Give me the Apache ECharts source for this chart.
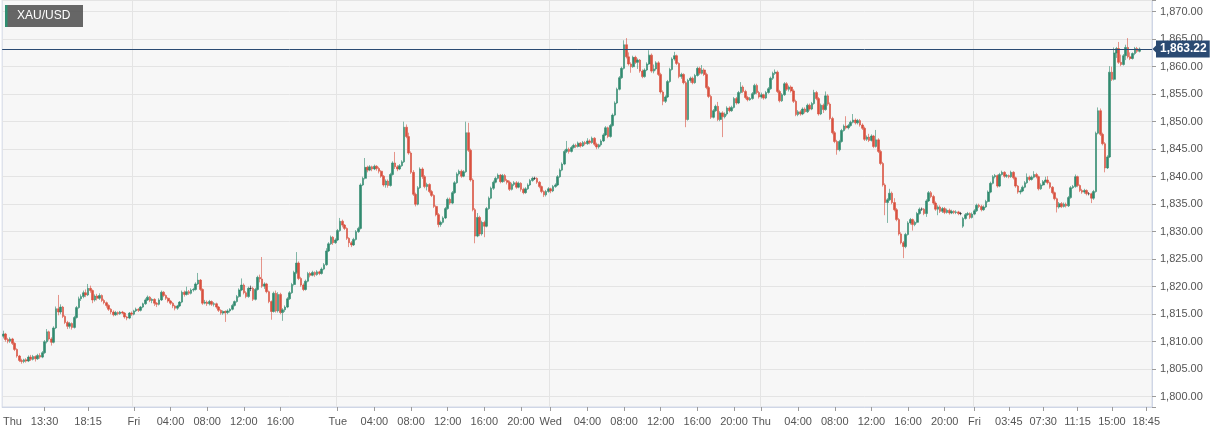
<!DOCTYPE html>
<html>
<head>
<meta charset="utf-8">
<script src="https://cdn.jsdelivr.net/npm/echarts@6/dist/echarts.min.js"></script>
<style>
html,body{margin:0;padding:0;background:#ffffff;}
#chart{width:1222px;height:435px;}
</style>
</head>
<body>
<div id="chart"></div>
<script>
// candles: [open, close, low, high], 15-minute bars
const thu1 = [
[1811.0,1811.4,1810.6,1812.0],[1811.4,1810.4,1810.0,1811.6],[1810.4,1810.1,1809.7,1810.7],[1810.1,1810.5,1809.8,1810.8],
[1810.5,1809.7,1809.4,1810.7],[1809.7,1808.6,1808.3,1809.9],[1808.6,1807.4,1807.1,1808.8],[1807.4,1806.6,1806.3,1807.6],
[1806.6,1806.4,1806.0,1806.9],[1806.4,1806.7,1806.1,1806.9],[1806.7,1806.5,1806.2,1807.0],[1806.5,1807.2,1806.3,1807.5],
[1807.2,1806.8,1806.5,1807.6],[1806.8,1807.3,1806.6,1807.6],[1807.3,1806.9,1806.4,1807.5],[1806.9,1807.5,1806.7,1807.8],
[1807.5,1807.2,1806.9,1807.9],[1807.2,1808.0,1807.0,1808.3],[1808.0,1810.0,1807.8,1810.3],[1810.0,1811.8,1809.7,1812.3],
[1811.8,1810.5,1810.2,1812.0],[1810.5,1809.9,1809.3,1810.8],[1809.9,1812.5,1809.7,1812.8],[1812.5,1816.0,1812.3,1816.4],
[1816.0,1815.4,1814.8,1818.5],[1815.4,1816.3,1815.0,1816.8],[1816.3,1814.6,1814.3,1816.5],[1814.6,1813.5,1813.2,1814.8],
[1813.5,1812.8,1812.3,1813.8],[1812.8,1813.3,1812.4,1813.6],[1813.3,1812.6,1812.2,1813.5],[1812.6,1814.4,1812.4,1814.7],
[1814.4,1816.2,1814.2,1816.5],[1816.2,1817.8,1816.0,1818.2],[1817.8,1818.2,1817.4,1818.6],[1818.2,1818.9,1817.9,1819.3],
[1818.9,1818.5,1818.1,1819.5],[1818.5,1819.7,1818.3,1820.5],[1819.7,1819.3,1818.9,1820.2],[1819.3,1817.6,1817.0,1819.5],
[1817.6,1818.3,1817.3,1818.6],[1818.3,1817.9,1817.5,1818.7],[1817.9,1818.4,1817.6,1818.8],[1818.4,1817.5,1817.2,1818.6],
[1817.5,1817.1,1816.8,1817.8],[1817.1,1816.6,1816.2,1817.3],[1816.6,1815.9,1815.6,1816.8],[1815.9,1815.4,1815.0,1816.1],
[1815.4,1814.9,1814.6,1815.7],[1814.9,1815.3,1814.7,1815.6],[1815.3,1815.1,1814.8,1815.5],[1815.1,1815.4,1814.9,1815.6],
[1815.4,1815.2,1815.0,1815.6],[1815.2,1814.5,1814.2,1815.4],[1814.5,1814.3,1813.9,1814.7],[1814.3,1815.2,1814.1,1815.4],
[1815.2,1815.0,1814.7,1815.5]
];
const fri1 = [
[1815.0,1815.6,1814.8,1815.8],[1815.6,1815.9,1815.4,1816.2],[1815.9,1815.7,1815.4,1816.1],[1815.7,1816.3,1815.5,1816.5],
[1816.3,1816.9,1816.1,1817.1],[1816.9,1817.6,1816.7,1817.9],[1817.6,1818.1,1817.4,1818.4],[1818.1,1817.5,1817.2,1818.3],
[1817.5,1817.7,1817.0,1817.9],[1817.7,1817.0,1816.5,1817.9],[1817.0,1816.8,1816.3,1817.2],[1816.8,1817.6,1816.6,1817.9],
[1817.6,1819.0,1817.4,1819.3],[1819.0,1818.4,1818.1,1819.2],[1818.4,1817.9,1817.6,1818.6],[1817.9,1817.4,1817.1,1818.1],
[1817.4,1817.0,1816.7,1817.6],[1817.0,1816.5,1816.1,1817.2],[1816.5,1816.1,1815.7,1816.7],[1816.1,1816.5,1815.8,1816.7],
[1816.5,1817.2,1816.3,1817.4],[1817.2,1819.0,1817.0,1819.3],[1819.0,1818.6,1818.2,1819.3],[1818.6,1819.1,1818.4,1820.0],
[1819.1,1818.8,1818.5,1819.4],[1818.8,1819.4,1818.6,1819.7],[1819.4,1819.5,1819.1,1819.8],[1819.5,1820.5,1819.3,1820.8],
[1820.5,1821.2,1820.3,1822.5],[1821.2,1819.5,1819.2,1821.4],[1819.5,1817.0,1816.7,1819.7],[1817.0,1817.2,1816.8,1817.6],
[1817.2,1816.9,1816.5,1817.5],[1816.9,1817.3,1816.6,1817.6],[1817.3,1816.8,1816.5,1817.5],[1816.8,1816.9,1816.4,1817.2],
[1816.9,1816.3,1816.0,1817.1],[1816.3,1815.7,1815.4,1816.5],[1815.7,1815.2,1814.9,1815.9],[1815.2,1815.5,1814.9,1815.7],
[1815.5,1815.3,1813.6,1815.7],[1815.3,1815.6,1815.0,1815.9],[1815.6,1815.9,1815.3,1816.1],[1815.9,1816.6,1815.7,1816.9],
[1816.6,1817.3,1816.4,1817.5],[1817.3,1818.2,1817.1,1818.5],[1818.2,1819.4,1818.0,1819.7],[1819.4,1820.3,1819.2,1821.5],
[1820.3,1818.9,1818.6,1820.6],[1818.9,1818.2,1817.9,1819.2],[1818.2,1819.7,1818.0,1820.0],[1819.7,1819.7,1819.2,1820.2],
[1819.7,1817.7,1817.4,1820.0],[1817.7,1819.5,1817.5,1819.8],[1819.5,1821.7,1819.3,1822.0],[1821.7,1821.4,1820.8,1822.2],
[1821.4,1820.1,1819.8,1825.4],[1820.1,1820.5,1819.6,1820.8],[1820.5,1819.1,1818.8,1820.7],[1819.1,1817.3,1817.0,1819.3],
[1817.3,1815.5,1814.0,1817.5],[1815.5,1818.8,1815.3,1819.1],[1818.8,1815.6,1815.3,1819.3],[1815.6,1818.6,1815.3,1819.0],
[1818.6,1815.3,1815.0,1818.9],[1815.3,1815.8,1813.8,1816.1],[1815.8,1816.3,1815.4,1816.6],[1816.3,1817.8,1816.1,1818.1],
[1817.8,1818.9,1817.6,1819.2],[1818.9,1820.4,1818.7,1820.7],[1820.4,1822.6,1820.2,1822.9],[1822.6,1824.3,1822.3,1826.3],
[1824.3,1821.5,1821.2,1824.6],[1821.5,1820.3,1820.0,1821.8],[1820.3,1819.5,1819.2,1820.6],[1819.5,1821.0,1819.3,1821.3],
[1821.0,1822.4,1820.8,1822.7],[1822.4,1822.1,1821.7,1822.7],[1822.1,1822.6,1821.9,1822.9],[1822.6,1822.2,1821.8,1822.8],
[1822.2,1822.7,1822.0,1823.0],[1822.7,1822.4,1822.1,1822.9],[1822.4,1823.2,1822.2,1823.5],[1823.2,1824.0,1823.0,1824.3],
[1824.0,1826.5,1823.8,1827.0],[1826.5,1827.8,1826.3,1828.1],[1827.8,1829.0,1827.6,1829.3],[1829.0,1828.0,1827.6,1829.2],
[1828.0,1828.5,1827.8,1828.8]
];
const tue = [
[1828.5,1830.2,1828.3,1830.5],[1830.2,1831.9,1830.0,1832.5],[1831.9,1831.2,1830.8,1832.2],[1831.2,1830.6,1830.3,1831.4],
[1830.6,1828.8,1828.5,1830.8],[1828.8,1828.0,1827.2,1829.0],[1828.0,1827.6,1827.2,1828.3],[1827.6,1828.6,1827.4,1828.9],
[1828.6,1830.0,1828.4,1830.3],[1830.0,1830.6,1829.8,1830.9],[1830.6,1838.5,1830.4,1838.8],[1838.5,1839.7,1838.3,1840.0],
[1839.7,1841.7,1839.5,1843.4],[1841.7,1841.2,1840.8,1842.0],[1841.2,1841.8,1841.0,1842.1],[1841.8,1841.4,1841.0,1842.0],
[1841.4,1841.9,1841.2,1842.2],[1841.9,1841.5,1841.1,1842.1],[1841.5,1841.0,1840.6,1841.8],[1841.0,1840.1,1839.8,1841.2],
[1840.1,1838.5,1838.2,1840.3],[1838.5,1839.2,1838.0,1839.5],[1839.2,1838.4,1838.0,1839.5],[1838.4,1840.4,1838.2,1840.7],
[1840.4,1842.5,1840.2,1842.8],[1842.5,1841.8,1841.4,1844.5],[1841.8,1841.4,1841.0,1842.1],[1841.4,1842.0,1841.2,1842.3],
[1842.0,1842.7,1841.8,1843.0],[1842.7,1849.0,1842.5,1850.0],[1849.0,1847.3,1847.0,1849.5],[1847.3,1844.3,1844.0,1848.0],
[1844.3,1840.8,1840.5,1844.6],[1840.8,1836.8,1836.5,1841.2],[1836.8,1835.0,1834.6,1837.1],[1835.0,1838.0,1834.8,1838.3],
[1838.0,1841.4,1837.8,1841.7],[1841.4,1840.0,1839.6,1841.7],[1840.0,1838.2,1837.9,1840.3],[1838.2,1838.6,1837.5,1838.9],
[1838.6,1837.3,1837.0,1838.8],[1837.3,1836.6,1836.3,1837.6],[1836.6,1834.6,1834.3,1836.8],[1834.6,1833.1,1832.8,1834.8],
[1833.1,1831.3,1830.8,1833.4],[1831.3,1831.7,1830.9,1832.0],[1831.7,1832.5,1831.5,1832.8],[1832.5,1834.2,1832.3,1834.5],
[1834.2,1835.9,1834.0,1836.2],[1835.9,1835.2,1834.9,1836.2],[1835.2,1837.1,1835.0,1837.4],[1837.1,1838.9,1836.9,1839.2],
[1838.9,1840.5,1838.7,1840.8],[1840.5,1841.0,1840.2,1841.3],[1841.0,1840.1,1839.8,1841.3],[1840.1,1840.9,1839.9,1841.2],
[1840.9,1848.0,1840.7,1850.0],[1848.0,1844.8,1844.5,1849.8],[1844.8,1839.4,1839.1,1845.1],[1839.4,1834.0,1833.7,1839.7],
[1834.0,1829.2,1827.9,1834.3],[1829.2,1832.6,1829.0,1833.4],[1832.6,1829.6,1829.2,1832.9],[1829.6,1831.7,1829.3,1832.0],
[1831.7,1831.0,1829.0,1832.0],[1831.0,1834.2,1830.8,1834.5],[1834.2,1836.1,1834.0,1836.4],[1836.1,1837.9,1835.9,1838.2],
[1837.9,1839.0,1837.6,1839.3],[1839.0,1839.7,1838.8,1840.0],[1839.7,1840.3,1839.5,1840.6],[1840.3,1839.1,1838.8,1840.5],
[1839.1,1840.2,1838.9,1840.5],[1840.2,1839.3,1839.0,1840.5],[1839.3,1839.0,1838.6,1839.6],[1839.0,1837.7,1837.4,1839.3],
[1837.7,1838.6,1837.5,1838.9],[1838.6,1838.9,1838.3,1839.2],[1838.9,1838.1,1837.8,1839.2],[1838.1,1838.8,1837.9,1839.1],
[1838.8,1837.7,1837.3,1839.0],[1837.7,1837.1,1836.8,1838.0],[1837.1,1837.8,1836.9,1838.1],[1837.8,1838.5,1837.6,1838.8],
[1838.5,1839.3,1838.3,1839.6],[1839.3,1839.7,1839.1,1840.0],[1839.7,1839.7,1839.4,1840.0],[1839.7,1839.0,1838.7,1839.9],
[1839.0,1838.2,1837.9,1839.2],[1838.2,1837.3,1837.0,1838.4],[1837.3,1836.7,1836.3,1837.5],[1836.7,1837.3,1836.4,1837.6],
[1837.3,1837.8,1837.1,1838.1]
];
const wed = [
[1837.8,1837.4,1837.0,1838.0],[1837.4,1838.2,1837.2,1838.5],[1838.2,1838.5,1838.0,1838.8],[1838.5,1840.0,1838.3,1840.3],
[1840.0,1841.2,1839.8,1841.5],[1841.2,1842.3,1841.0,1842.6],[1842.3,1844.6,1842.1,1844.9],[1844.6,1845.0,1844.3,1846.5],
[1845.0,1844.6,1844.2,1845.3],[1844.6,1845.3,1844.4,1845.6],[1845.3,1845.7,1845.1,1846.0],[1845.7,1845.5,1845.2,1846.0],
[1845.5,1846.1,1845.3,1846.4],[1846.1,1845.6,1845.3,1846.3],[1845.6,1846.2,1845.4,1846.5],[1846.2,1846.0,1845.7,1846.5],
[1846.0,1846.5,1845.8,1847.0],[1846.5,1846.2,1845.9,1846.8],[1846.2,1847.0,1846.0,1847.3],[1847.0,1845.9,1845.6,1847.2],
[1845.9,1845.4,1845.0,1846.2],[1845.4,1845.8,1845.1,1846.0],[1845.8,1846.5,1845.5,1846.8],[1846.5,1847.6,1846.3,1847.9],
[1847.6,1848.9,1847.4,1849.2],[1848.9,1847.3,1847.0,1849.1],[1847.3,1849.3,1847.1,1849.6],[1849.3,1851.2,1849.1,1851.5],
[1851.2,1853.4,1851.0,1853.7],[1853.4,1855.9,1853.2,1856.2],[1855.9,1858.0,1855.7,1858.3],[1858.0,1859.7,1857.8,1860.0],
[1859.7,1864.0,1859.5,1864.8],[1864.0,1861.8,1861.5,1865.2],[1861.8,1860.5,1860.2,1862.6],[1860.5,1860.0,1858.9,1860.8],
[1860.0,1861.7,1859.8,1862.0],[1861.7,1860.8,1860.5,1862.0],[1860.8,1861.2,1859.6,1861.5],[1861.2,1859.2,1858.9,1861.4],
[1859.2,1858.2,1857.9,1859.5],[1858.2,1859.4,1858.0,1859.7],[1859.4,1860.5,1859.2,1860.8],[1860.5,1862.1,1860.3,1863.0],
[1862.1,1859.2,1858.9,1862.4],[1859.2,1859.6,1858.8,1860.4],[1859.6,1860.7,1859.3,1861.0],[1860.7,1858.6,1858.3,1861.0],
[1858.6,1855.4,1855.1,1858.9],[1855.4,1853.7,1853.0,1855.7],[1853.7,1854.5,1853.4,1854.8],[1854.5,1857.3,1854.3,1857.6],
[1857.3,1859.5,1857.1,1859.8],[1859.5,1861.4,1859.3,1861.7],[1861.4,1862.0,1861.1,1862.7],[1862.0,1860.6,1860.3,1862.2],
[1860.6,1858.2,1857.9,1860.8],[1858.2,1858.6,1857.8,1858.9],[1858.6,1857.1,1856.8,1858.8],[1857.1,1850.4,1849.0,1857.4],
[1850.4,1857.5,1850.2,1857.8],[1857.5,1857.9,1857.1,1858.2],[1857.9,1857.1,1856.8,1858.2],[1857.1,1858.4,1856.9,1858.7],
[1858.4,1859.7,1858.2,1860.0],[1859.7,1858.8,1858.5,1860.0],[1858.8,1859.4,1858.6,1860.3],[1859.4,1858.6,1858.3,1859.7],
[1858.6,1856.2,1855.9,1858.9],[1856.2,1854.6,1854.3,1856.5],[1854.6,1850.8,1850.5,1854.9],[1850.8,1852.0,1850.6,1852.3],
[1852.0,1852.8,1851.8,1853.1],[1852.8,1850.4,1850.1,1853.6],[1850.4,1851.6,1850.1,1851.9],[1851.6,1850.9,1847.2,1851.9],
[1850.9,1851.4,1850.6,1851.7],[1851.4,1852.5,1851.1,1852.8],[1852.5,1852.0,1851.7,1852.8],[1852.0,1852.6,1851.8,1852.9],
[1852.6,1854.2,1852.4,1854.5],[1854.2,1853.4,1853.1,1854.5],[1853.4,1855.3,1853.2,1855.6],[1855.3,1856.3,1855.1,1857.2],
[1856.3,1855.5,1855.2,1856.6],[1855.5,1854.4,1854.1,1855.8],[1854.4,1854.0,1853.7,1854.7],[1854.0,1854.2,1853.8,1854.5],
[1854.2,1855.1,1854.0,1855.4],[1855.1,1856.6,1854.9,1856.9],[1856.6,1855.3,1855.0,1856.9],[1855.3,1854.5,1854.2,1855.6]
];
const thu2 = [
[1854.5,1854.9,1854.2,1855.3],[1854.9,1854.3,1854.0,1855.1],[1854.3,1855.3,1854.1,1855.6],[1855.3,1856.0,1855.1,1856.3],
[1856.0,1857.9,1855.8,1858.2],[1857.9,1858.8,1857.6,1859.1],[1858.8,1859.0,1858.5,1859.5],[1859.0,1855.5,1855.2,1859.3],
[1855.5,1853.8,1853.5,1855.8],[1853.8,1854.9,1853.6,1855.2],[1854.9,1856.9,1854.7,1857.2],[1856.9,1855.9,1855.6,1857.2],
[1855.9,1856.3,1855.5,1856.6],[1856.3,1855.6,1855.3,1856.6],[1855.6,1853.7,1853.4,1855.9],[1853.7,1851.3,1851.0,1854.0],
[1851.3,1851.8,1851.0,1852.1],[1851.8,1851.4,1851.1,1852.1],[1851.4,1852.3,1851.2,1852.6],[1852.3,1851.8,1851.5,1852.6],
[1851.8,1853.0,1851.6,1853.3],[1853.0,1852.3,1852.0,1853.3],[1852.3,1853.3,1852.1,1853.6],[1853.3,1855.3,1853.1,1855.8],
[1855.3,1854.2,1853.9,1855.6],[1854.2,1851.4,1851.1,1854.5],[1851.4,1853.0,1851.2,1853.3],[1853.0,1852.2,1851.6,1853.3],
[1852.2,1854.7,1852.0,1855.5],[1854.7,1853.2,1852.9,1855.0],[1853.2,1850.6,1850.3,1853.5],[1850.6,1848.0,1847.7,1850.9],
[1848.0,1846.4,1846.1,1848.3],[1846.4,1844.9,1844.0,1846.7],[1844.9,1846.4,1844.6,1846.7],[1846.4,1848.4,1846.2,1848.7],
[1848.4,1849.2,1848.2,1849.5],[1849.2,1848.9,1848.6,1851.0],[1848.9,1849.3,1848.6,1849.6],[1849.3,1849.9,1849.1,1850.2],
[1849.9,1850.3,1849.7,1851.4],[1850.3,1849.8,1849.5,1850.6],[1849.8,1850.2,1849.5,1850.5],[1850.2,1849.4,1849.1,1850.5],
[1849.4,1848.8,1848.5,1849.7],[1848.8,1846.8,1846.5,1849.1],[1846.8,1847.2,1846.5,1847.5],[1847.2,1846.6,1846.3,1847.8],
[1846.6,1847.4,1846.4,1847.7],[1847.4,1845.5,1845.2,1847.6],[1845.5,1846.7,1845.3,1848.5],[1846.7,1844.6,1844.3,1847.0],
[1844.6,1842.4,1842.1,1844.9],[1842.4,1838.5,1838.2,1842.7],[1838.5,1835.3,1833.0,1838.8],[1835.3,1835.8,1831.6,1836.1],
[1835.8,1837.0,1835.6,1837.8],[1837.0,1835.3,1835.0,1837.3],[1835.3,1834.0,1833.7,1836.1],[1834.0,1832.2,1831.9,1834.3],
[1832.2,1829.6,1829.3,1832.5],[1829.6,1828.0,1827.7,1829.9],[1828.0,1827.3,1825.2,1828.3],[1827.3,1829.5,1827.0,1829.8],
[1829.5,1831.6,1829.3,1831.9],[1831.6,1832.2,1831.3,1832.5],[1832.2,1831.3,1830.2,1832.4],[1831.3,1831.7,1831.0,1832.0],
[1831.7,1833.3,1831.5,1833.6],[1833.3,1834.1,1833.1,1834.4],[1834.1,1834.1,1833.8,1834.4],[1834.1,1833.3,1833.0,1834.3],
[1833.3,1835.6,1832.7,1835.9],[1835.6,1837.1,1835.4,1837.4],[1837.1,1836.4,1836.1,1837.4],[1836.4,1835.2,1834.9,1836.7],
[1835.2,1834.1,1833.8,1835.5],[1834.1,1834.5,1833.0,1834.8],[1834.5,1833.7,1833.4,1834.8],[1833.7,1834.2,1833.4,1834.5],
[1834.2,1833.5,1833.2,1834.5],[1833.5,1833.9,1833.3,1834.2],[1833.9,1833.4,1833.1,1834.2],[1833.4,1833.7,1833.2,1834.0],
[1833.7,1833.5,1833.2,1833.9],[1833.5,1833.6,1833.2,1833.9],[1833.6,1833.3,1833.0,1833.8],[1833.3,1833.3,1833.0,1833.6],
[1831.0,1832.4,1830.7,1832.7],[1832.4,1833.1,1832.2,1833.4],[1833.1,1833.3,1832.9,1833.6],[1833.3,1832.6,1832.3,1833.5],
[1832.6,1833.2,1832.4,1833.5]
];
const fri2 = [
[1833.2,1833.8,1833.0,1834.1],[1833.8,1834.8,1833.6,1835.1],[1834.8,1834.6,1834.3,1835.1],[1834.6,1834.0,1833.7,1834.9],
[1834.0,1834.5,1833.8,1834.8],[1834.5,1835.5,1834.3,1835.8],[1835.5,1837.2,1835.3,1837.5],[1837.2,1838.8,1837.0,1839.1],
[1838.8,1840.0,1838.6,1840.3],[1840.0,1840.2,1839.7,1840.5],[1840.2,1838.3,1838.0,1840.4],[1838.3,1840.4,1838.1,1840.7],
[1840.4,1840.8,1840.2,1841.1],[1840.8,1840.1,1839.8,1841.0],[1840.1,1840.2,1839.8,1840.5],[1840.2,1840.0,1839.7,1840.4],
[1840.0,1840.8,1839.8,1841.1],[1840.8,1839.8,1839.5,1841.0],[1839.8,1838.3,1838.0,1840.0],[1838.3,1837.2,1836.9,1838.5],
[1837.2,1837.4,1836.8,1837.7],[1837.4,1838.1,1837.2,1838.4],[1838.1,1838.9,1837.9,1839.2],[1838.9,1839.9,1838.7,1840.6],
[1839.9,1839.5,1839.2,1840.2],[1839.5,1839.9,1839.3,1840.2],[1839.9,1840.4,1839.7,1841.0],[1840.4,1840.0,1839.7,1840.7],
[1840.0,1837.8,1837.5,1840.2],[1837.8,1838.5,1837.6,1838.8],[1838.5,1839.1,1838.3,1839.4],[1839.1,1839.4,1838.9,1840.0],
[1839.4,1838.9,1838.6,1840.1],[1838.9,1838.1,1837.8,1839.1],[1838.1,1837.1,1836.8,1838.3],[1837.1,1836.0,1835.7,1837.3],
[1836.0,1834.5,1833.5,1836.2],[1834.5,1835.1,1834.2,1835.4],[1835.1,1834.6,1834.3,1835.4],[1834.6,1835.0,1834.4,1835.3],
[1835.0,1834.7,1834.4,1835.3],[1834.7,1836.2,1834.5,1836.5],[1836.2,1838.0,1836.0,1838.3],[1838.0,1838.2,1837.8,1838.5],
[1838.2,1840.0,1838.0,1840.4],[1840.0,1838.4,1838.1,1840.2],[1838.4,1837.5,1837.2,1838.6],[1837.5,1837.2,1836.9,1837.8],
[1837.2,1837.5,1836.9,1837.8],[1837.5,1836.9,1836.6,1837.7],[1836.9,1836.9,1836.6,1837.2],[1836.9,1836.1,1835.2,1837.1],
[1836.1,1837.3,1835.8,1837.6],[1837.3,1847.9,1837.1,1848.2],[1847.9,1852.0,1847.7,1852.6],[1852.0,1847.7,1847.4,1852.4],
[1847.7,1846.0,1845.7,1848.0],[1846.0,1841.6,1840.8,1846.3],[1841.6,1843.6,1841.4,1843.9],[1843.6,1859.0,1843.4,1860.1],
[1859.0,1857.7,1857.4,1860.0],[1857.7,1862.5,1857.5,1863.5],[1862.5,1863.3,1861.6,1863.6],[1863.3,1860.8,1860.5,1864.5],
[1860.8,1860.4,1860.1,1862.2],[1860.4,1862.0,1860.2,1862.3],[1862.0,1863.5,1861.2,1864.0],[1863.5,1861.8,1861.5,1865.2],
[1861.8,1861.5,1861.2,1862.6],[1861.5,1862.4,1861.3,1862.6],[1862.4,1863.3,1862.1,1863.6],[1863.3,1862.8,1862.5,1863.6],
[1862.8,1863.22,1862.6,1863.5]
];

const lastPrice = 1863.22;
const slotCount = 502;  // category slots on the time axis (includes empty space after the last bar)
const tickIndex = [4,18,37,57,73,89,105,121,146,162,178,194,210,226,239,255,271,287,303,319,331,347,363,379,395,411,424,439,454,469,484,499];
const tickText = ['Thu','13:30','18:15','Fri','04:00','08:00','12:00','16:00','Tue','04:00','08:00','12:00','16:00','20:00','Wed','04:00','08:00','12:00','16:00','20:00','Thu','04:00','08:00','12:00','16:00','20:00','Fri','03:45','07:30','11:15','15:00','18:45'];
const dayIndex = [57,146,239,331,424];
const symbolName = 'XAU/USD';

const candles = thu1.concat(fri1, tue, wed, thu2, fri2);
const cats = [];
for (let i = 0; i < slotCount; i++) cats.push(i);
const labelMap = {};
tickIndex.forEach((t, k) => { labelMap[t] = tickText[k]; });
const daySet = new Set(dayIndex);

function fmtPrice(v) {
  const s = v.toFixed(2);
  const parts = s.split('.');
  parts[0] = parts[0].replace(/\B(?=(\d{3})+(?!\d))/g, ',');
  return parts.join('.');
}

const UP = '#318a6f', DOWN = '#d9513f', LINE = '#2a4a72';
const FONT = '"Liberation Sans", Arial, sans-serif';
const GRID_RIGHT = 70, GRID_BOTTOM = 28;

const chart = echarts.init(document.getElementById('chart'), null, {renderer: 'canvas'});
chart.setOption({
  animation: false,
  backgroundColor: '#ffffff',
  grid: {left: 0, right: GRID_RIGHT, top: 0, bottom: GRID_BOTTOM, show: true,
         backgroundColor: '#f7f7f7', borderColor: '#d2d8e6', borderWidth: 1},
  xAxis: {
    type: 'category', data: cats, boundaryGap: true,
    axisLine: {show: true, lineStyle: {color: '#cfd6e6', width: 1}},
    axisTick: {show: true, alignWithLabel: true, length: 4, lineStyle: {color: '#9a9a9a'},
               interval: (i) => labelMap[i] !== undefined && i !== tickIndex[0]},
    axisLabel: {show: true, interval: (i) => labelMap[i] !== undefined,
                formatter: (v, i) => labelMap[i] !== undefined ? labelMap[i] : '',
                color: '#555', fontSize: 11, fontFamily: FONT, margin: 9},
    splitLine: {show: true, interval: (i) => daySet.has(i), lineStyle: {color: '#e4e4e4', width: 1}}
  },
  yAxis: {
    type: 'value', position: 'right', scale: true,
    min: 1798.13, max: 1872.13, splitNumber: 15, minInterval: 5, maxInterval: 5,
    axisLine: {show: true, lineStyle: {color: '#cfd6e6', width: 1}},
    axisTick: {show: true, length: 4, lineStyle: {color: '#9a9a9a'}},
    axisLabel: {color: '#555', fontSize: 11, fontFamily: FONT, margin: 8,
                formatter: (v) => Math.abs(v / 5 - Math.round(v / 5)) < 1e-6 ? fmtPrice(v) : ''},
    splitLine: {show: true, lineStyle: {color: '#e4e4e4', width: 1}}
  },
  series: [{
    type: 'candlestick',
    data: candles,
    barWidth: 2.1,
    itemStyle: {color: UP, color0: DOWN, borderColor: UP, borderColor0: DOWN,
                borderColorDoji: '#222222', borderWidth: 0.6},
    markLine: {
      silent: true, symbol: ['none', 'none'], animation: false,
      lineStyle: {color: LINE, width: 1, type: 'solid'},
      label: {show: true, position: 'end', distance: 4, formatter: () => fmtPrice(lastPrice),
              color: '#fff', fontWeight: 'bold', fontSize: 12, fontFamily: FONT,
              backgroundColor: LINE, padding: [3, 3, 2, 4]},
      emphasis: {disabled: true},
      data: [{yAxis: lastPrice}]
    }
  }]
});

const w = chart.getWidth();
const py = chart.convertToPixel({yAxisIndex: 0}, lastPrice);
const px = w - GRID_RIGHT;
chart.setOption({
  graphic: [
    {type: 'rect', left: 5, top: 5, shape: {width: 78, height: 22}, style: {fill: 'rgba(85,85,85,0.9)'}, z: 100},
    {type: 'rect', left: 5, top: 5, shape: {width: 2.5, height: 22}, style: {fill: '#2f8f72'}, z: 101},
    {type: 'text', left: 17, top: 10, style: {text: symbolName, fill: '#ffffff', font: '12px ' + FONT}, z: 101},
    {type: 'polygon', shape: {points: [[px + 0.5, py], [px + 4.5, py - 4], [px + 4.5, py + 4]]}, style: {fill: LINE}, z: 100}
  ]
});
</script>
</body>
</html>
